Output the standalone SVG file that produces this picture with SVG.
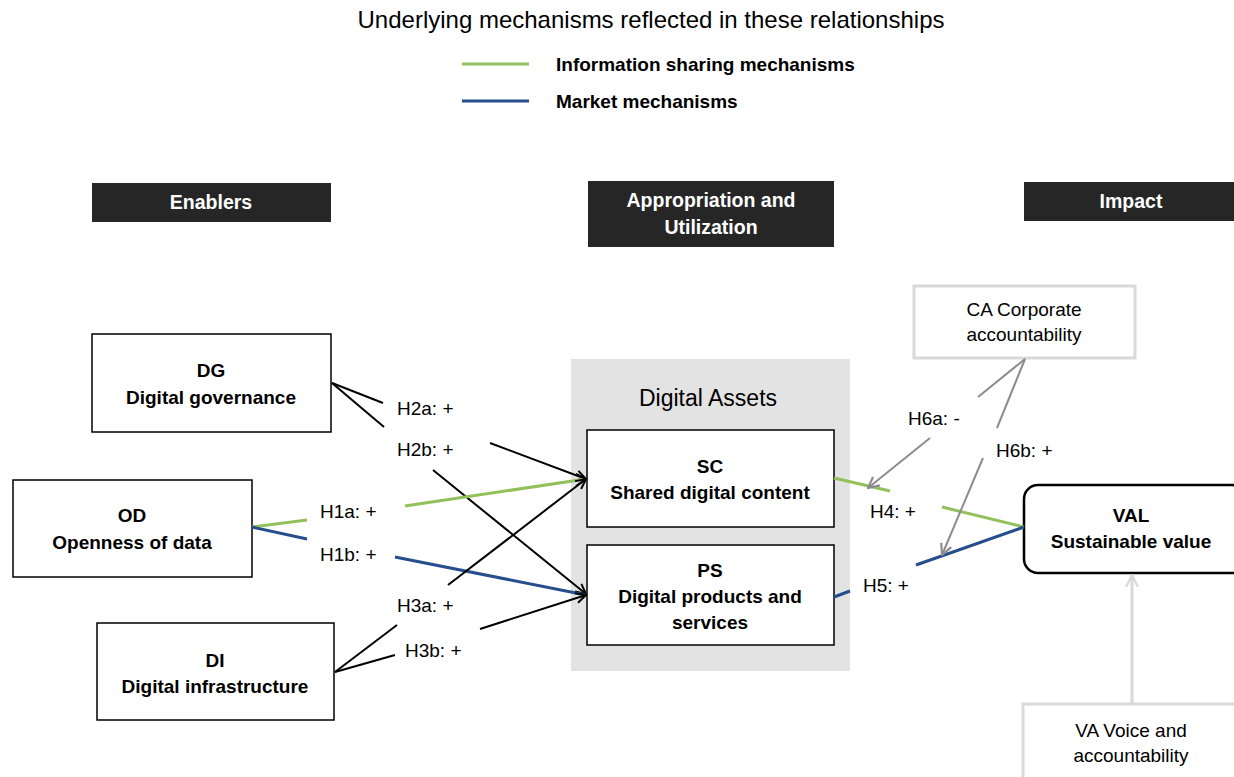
<svg xmlns="http://www.w3.org/2000/svg" width="1234" height="777" viewBox="0 0 1234 777">
<defs>
<style>
text{font-family:"Liberation Sans",Arial,sans-serif;fill:#000}
.t{font-size:23px}
.tt{font-size:24px}
.b{font-weight:bold;font-size:19px}
.hd{font-weight:bold;font-size:19.5px;fill:#fff}
.lb{font-size:19px}
.box{fill:#fff;stroke:#000;stroke-width:1.5}
.hdr{fill:#262626}
.gbox{fill:#fff;stroke:#d9d9d9;stroke-width:3}
.k{stroke:#000;stroke-width:2;fill:none}
.g{stroke:#92c05a;stroke-width:3;fill:none}
.bl{stroke:#264e8c;stroke-width:3;fill:none}
.gr{stroke:#8c8c8c;stroke-width:2;fill:none}
.lg{stroke:#d9d9d9;stroke-width:3;fill:none}
</style>
<marker id="ak" viewBox="0 0 12 12" refX="11" refY="6" markerWidth="12" markerHeight="12" markerUnits="userSpaceOnUse" orient="auto"><path d="M1,1 L11,6 L1,11" fill="none" stroke="#000" stroke-width="2"/></marker>
<marker id="ag" viewBox="0 0 12 12" refX="11" refY="6" markerWidth="13" markerHeight="13" markerUnits="userSpaceOnUse" orient="auto"><path d="M1,1 L11,6 L1,11" fill="none" stroke="#8c8c8c" stroke-width="2"/></marker>
<marker id="al" viewBox="0 0 12 12" refX="11" refY="6" markerWidth="14" markerHeight="14" markerUnits="userSpaceOnUse" orient="auto"><path d="M1,1 L11,6 L1,11" fill="none" stroke="#d9d9d9" stroke-width="2"/></marker>
</defs>
<rect width="1234" height="777" fill="#fff"/>

<g id="legend">
<text class="tt" x="651" y="28" text-anchor="middle">Underlying mechanisms reflected in these relationships</text>
<line x1="462" y1="64" x2="529" y2="64" class="g" stroke-width="4"/>
<text class="b" x="556" y="71">Information sharing mechanisms</text>
<line x1="462" y1="101" x2="529" y2="101" class="bl" stroke-width="4"/>
<text class="b" x="556" y="108">Market mechanisms</text>
</g>

<g id="hdr-enablers"><rect class="hdr" x="92" y="183" width="239" height="39"/><text class="hd" x="211" y="209" text-anchor="middle">Enablers</text></g>
<g id="hdr-approp"><rect class="hdr" x="588" y="181" width="246" height="66"/><text class="hd" x="711" y="207" text-anchor="middle">Appropriation and</text><text class="hd" x="711" y="234" text-anchor="middle">Utilization</text></g>
<g id="hdr-impact"><rect class="hdr" x="1024" y="182" width="212" height="39"/><text class="hd" x="1131" y="208" text-anchor="middle">Impact</text></g>

<g id="assets"><rect x="571" y="359" width="279" height="312" fill="#e3e3e3"/><text class="t" x="708" y="406" text-anchor="middle">Digital Assets</text></g>

<g id="DG"><rect class="box" x="92" y="334" width="239" height="98"/><text class="b" x="211" y="377" text-anchor="middle">DG</text><text class="b" x="211" y="404" text-anchor="middle">Digital governance</text></g>
<g id="OD"><rect class="box" x="13" y="480" width="239" height="97" stroke-width="2.5"/><text class="b" x="132" y="522" text-anchor="middle">OD</text><text class="b" x="132" y="549" text-anchor="middle">Openness of data</text></g>
<g id="DI"><rect class="box" x="97" y="623" width="237" height="97"/><text class="b" x="215" y="667" text-anchor="middle">DI</text><text class="b" x="215" y="693" text-anchor="middle">Digital infrastructure</text></g>
<g id="SC"><rect class="box" x="587" y="430" width="247" height="97"/><text class="b" x="710" y="473" text-anchor="middle">SC</text><text class="b" x="710" y="499" text-anchor="middle">Shared digital content</text></g>
<g id="PS"><rect class="box" x="587" y="545" width="247" height="100"/><text class="b" x="710" y="577" text-anchor="middle">PS</text><text class="b" x="710" y="603" text-anchor="middle">Digital products and</text><text class="b" x="710" y="629" text-anchor="middle">services</text></g>
<g id="VAL"><rect x="1024" y="485" width="222" height="88" rx="14" fill="#fff" stroke="#000" stroke-width="2.5"/><text class="b" x="1131" y="522" text-anchor="middle">VAL</text><text class="b" x="1131" y="548" text-anchor="middle">Sustainable value</text></g>
<g id="CA"><rect class="gbox" x="914" y="286" width="221" height="72"/><text class="lb" x="1024" y="316" text-anchor="middle">CA Corporate</text><text class="lb" x="1024" y="341" text-anchor="middle">accountability</text></g>
<g id="VA"><rect class="gbox" x="1023" y="704" width="215" height="78"/><text class="lb" x="1131" y="737" text-anchor="middle">VA Voice and</text><text class="lb" x="1131" y="762" text-anchor="middle">accountability</text></g>

<g id="connectors">
<line class="k" x1="332" y1="383" x2="383" y2="403"/>
<line class="k" x1="332" y1="383" x2="384" y2="427"/>
<line class="k" x1="490" y1="443" x2="586" y2="479" marker-end="url(#ak)"/>
<line class="k" x1="433" y1="470" x2="586" y2="594" marker-end="url(#ak)"/>
<line class="g" x1="252" y1="527" x2="307" y2="520"/>
<line class="g" x1="405" y1="506" x2="586" y2="479"/>
<path d="M576,474 L586,479 L576,486" class="k"/>
<line class="bl" x1="252" y1="527" x2="307" y2="539"/>
<line class="bl" x1="395" y1="557" x2="586" y2="595"/>
<line class="k" x1="335" y1="672" x2="397" y2="625"/>
<line class="k" x1="335" y1="672" x2="395" y2="655"/>
<line class="k" x1="448" y1="585" x2="586" y2="479" marker-end="url(#ak)"/>
<line class="k" x1="480" y1="629" x2="586" y2="595" marker-end="url(#ak)"/>
<line class="g" x1="834" y1="478" x2="890" y2="491"/>
<line class="g" x1="942" y1="507" x2="1024" y2="527"/>
<line class="bl" x1="834" y1="597" x2="850" y2="591"/>
<line class="bl" x1="916" y1="565" x2="1024" y2="527"/>
<line class="gr" x1="1025" y1="359" x2="978" y2="397"/>
<line class="gr" x1="930" y1="438" x2="868" y2="488" marker-end="url(#ag)"/>
<line class="gr" x1="1025" y1="359" x2="997" y2="428"/>
<line class="gr" x1="983" y1="458" x2="942" y2="555" marker-end="url(#ag)"/>
<line class="lg" x1="1132" y1="704" x2="1132" y2="575" marker-end="url(#al)"/>
</g>

<g id="labels">
<text class="lb" x="397" y="415">H2a: +</text>
<text class="lb" x="397" y="456">H2b: +</text>
<text class="lb" x="320" y="518">H1a: +</text>
<text class="lb" x="320" y="561">H1b: +</text>
<text class="lb" x="397" y="612">H3a: +</text>
<text class="lb" x="405" y="657">H3b: +</text>
<text class="lb" x="908" y="425">H6a: -</text>
<text class="lb" x="996" y="457">H6b: +</text>
<text class="lb" x="870" y="518">H4: +</text>
<text class="lb" x="863" y="592">H5: +</text>
</g>
</svg>
